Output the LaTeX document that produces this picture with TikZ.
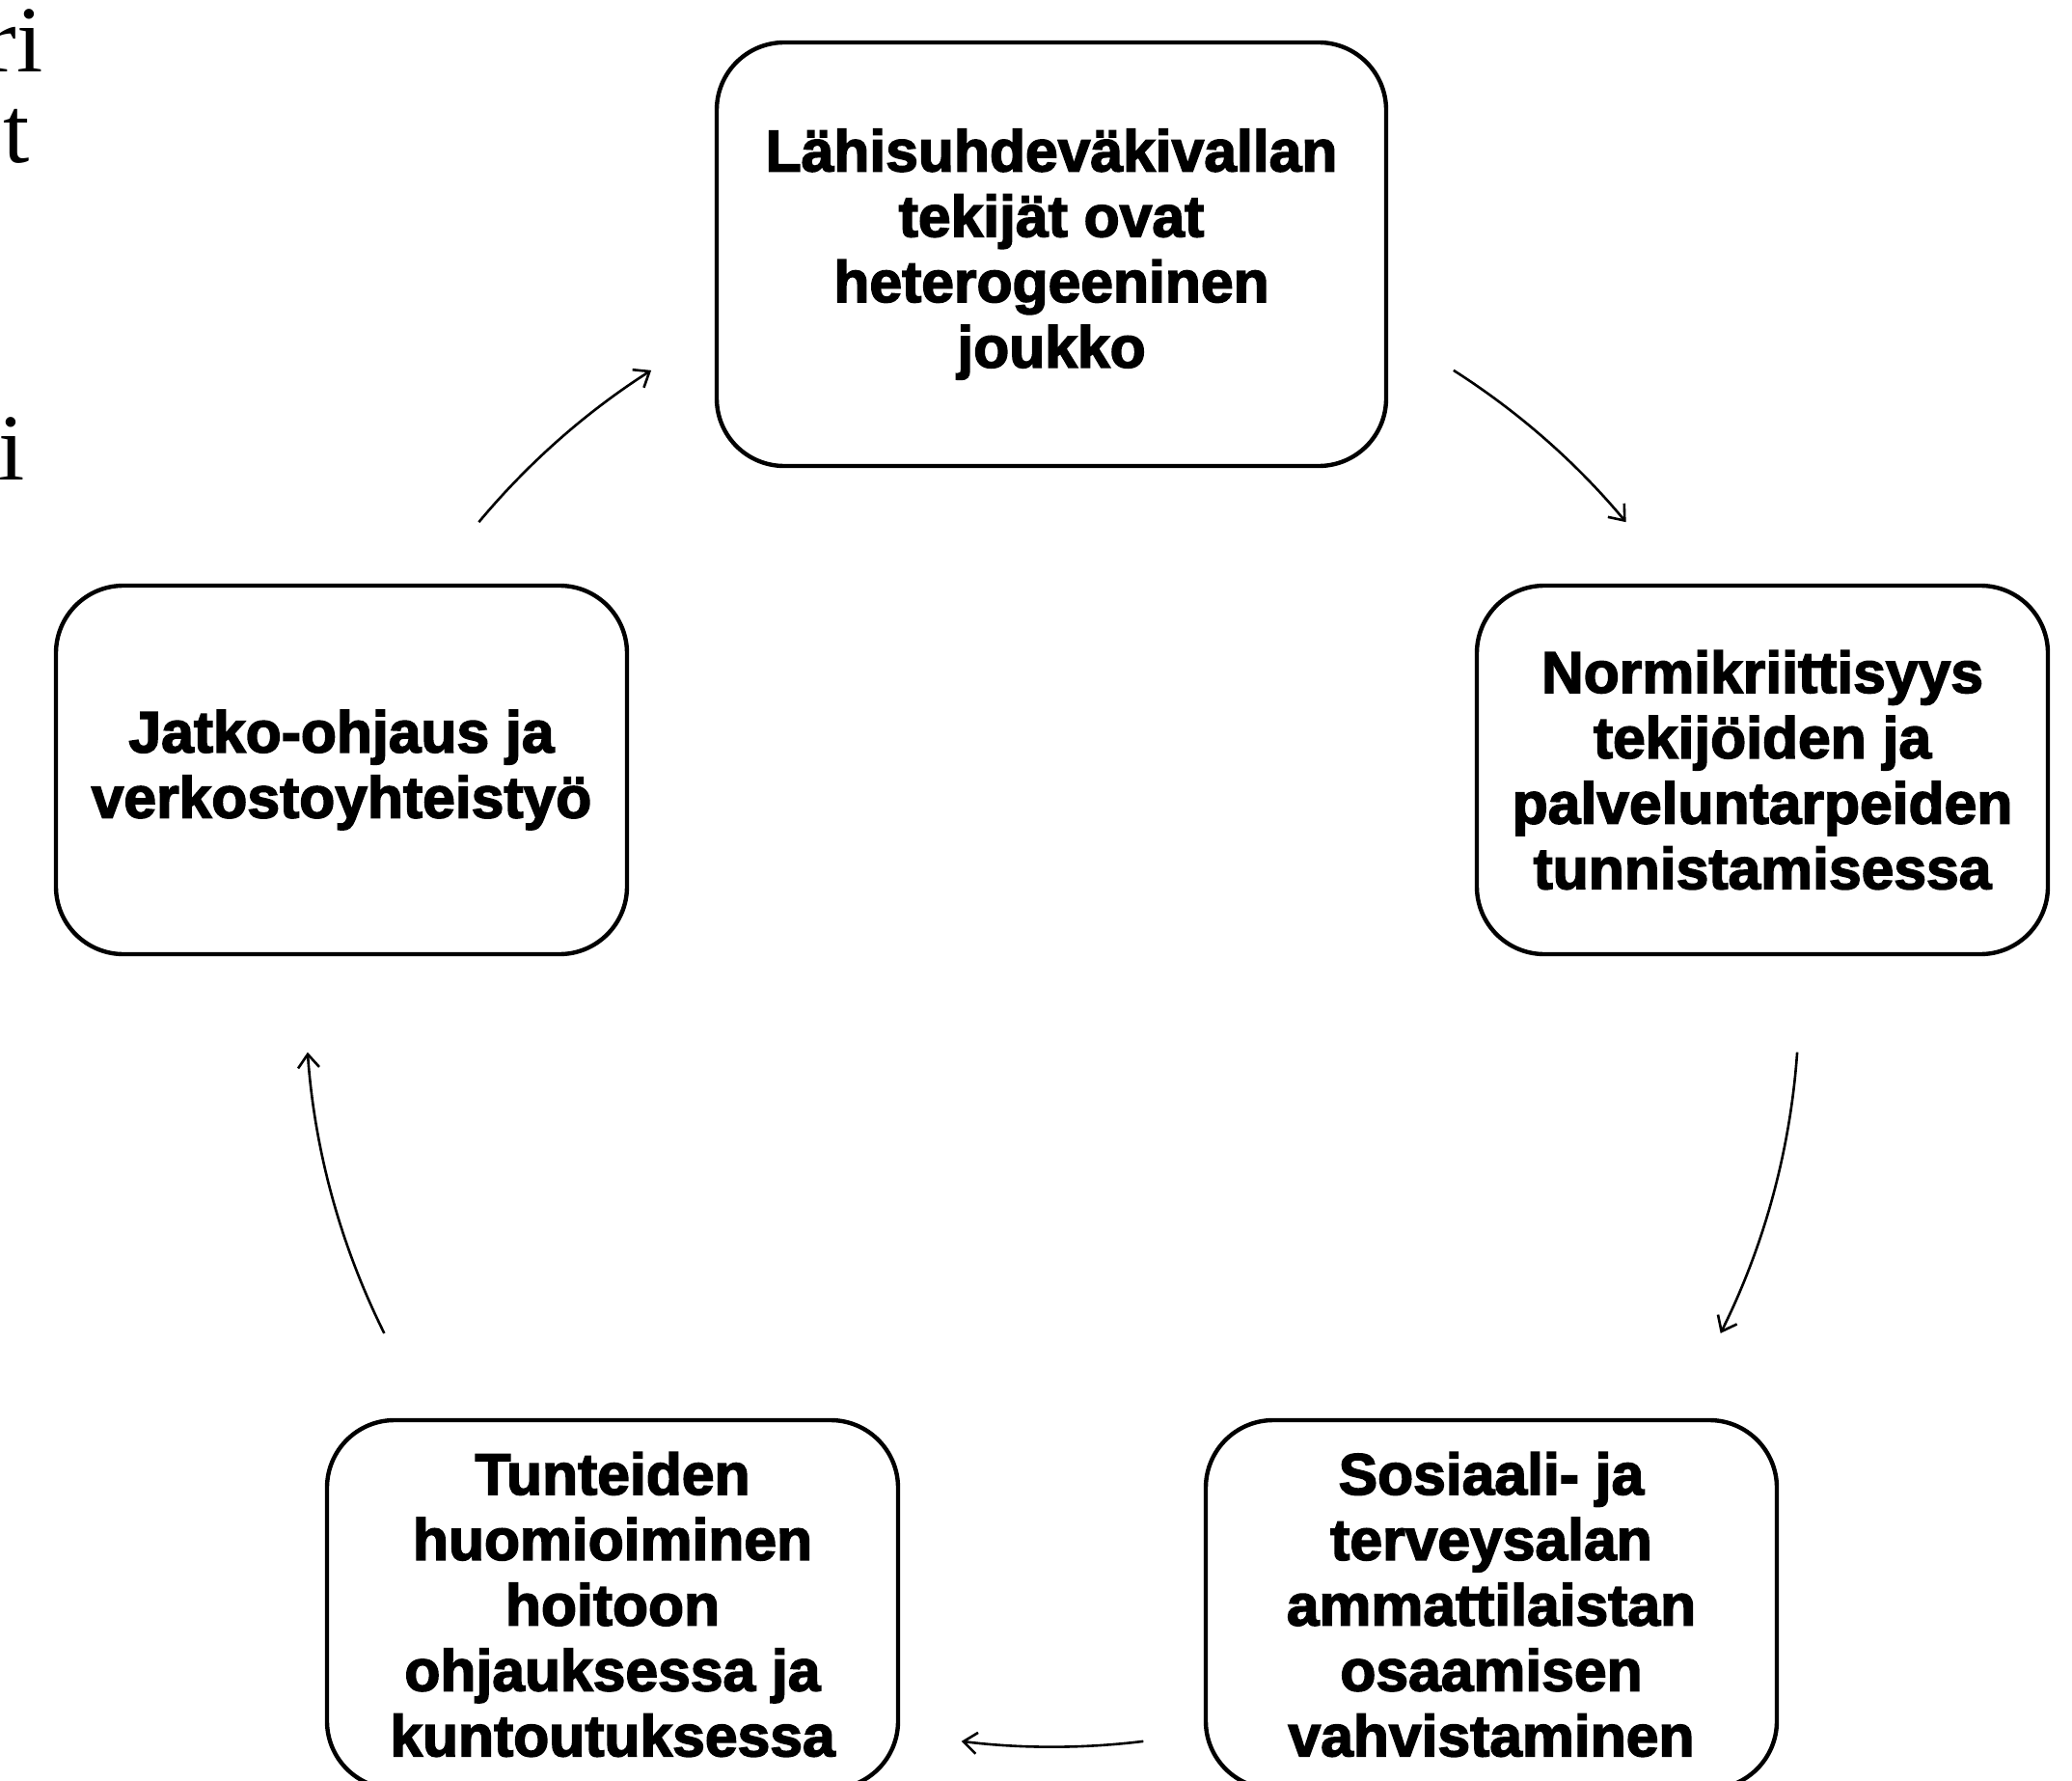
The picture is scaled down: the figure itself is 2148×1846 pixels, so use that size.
\documentclass[tikz,border=0pt]{standalone}
\usepackage{fontspec}
\setmainfont{Liberation Serif}
\newfontfamily\boxfont[FakeBold=2.6]{Liberation Sans Bold}
\usetikzlibrary{arrows.meta}
\begin{document}
\begin{tikzpicture}[x=0.5pt,y=-0.5pt,
  box/.style={draw, line width=2.2pt, rounded corners=35pt, align=center,
    inner sep=0pt, minimum width=296pt, minimum height=191pt,
    font=\boxfont\fontsize{30.3}{33.9}\selectfont},
  arr/.style={line width=1.3pt, -{Straight Barb[length=7pt,width=11pt]}},
  frag/.style={anchor=base east, inner sep=0pt, font=\fontsize{49}{49}\selectfont}]
\useasboundingbox (0,0) rectangle (2148,1846);

% cut-off text fragments at the left edge
\node[frag] (f1) at (45,75) {ri};
\node[frag] (f2) at (31,169) {t};
\node[frag] (f3) at (26,497) {i};

% boxes
\node[box, minimum width=347pt, minimum height=219.5pt] (top) at (1090,263.5)
  {Lähisuhdeväkivallan\\tekijät ovat\\heterogeeninen\\joukko};
\node[box] (right) at (1827,798)
  {Normikriittisyys\\tekijöiden ja\\palveluntarpeiden\\tunnistamisessa};
\node[box] (left) at (354,798)
  {Jatko-ohjaus ja\\verkostoyhteistyö};
\node[box] (bl) at (635,1663)
  {Tunteiden\\huomioiminen\\hoitoon\\ohjauksessa ja\\kuntoutuksessa};
\node[box] (br) at (1546,1663)
  {Sosiaali- ja\\terveysalan\\ammattilaistan\\osaamisen\\vahvistaminen};

% circular arrows
\coordinate (ctr) at (1091,1036.6);
\coordinate (a1s) at ([shift={(-57.5:774)}]ctr);
\coordinate (a2s) at ([shift={(4:774)}]ctr);
\coordinate (a3s) at ([shift={(83:774)}]ctr);
\coordinate (a4s) at ([shift={(153.5:774)}]ctr);
\coordinate (a5s) at ([shift={(-140.2:774)}]ctr);
\draw[arr] (a1s) arc[start angle=-57.5, end angle=-39.8, radius=774];
\draw[arr] (a2s) arc[start angle=4, end angle=26.5, radius=774];
\draw[arr] (a3s) arc[start angle=83, end angle=97, radius=774];
\draw[arr] (a4s) arc[start angle=153.5, end angle=176, radius=774];
\draw[arr] (a5s) arc[start angle=-140.2, end angle=-122.5, radius=774];
\end{tikzpicture}
\end{document}
